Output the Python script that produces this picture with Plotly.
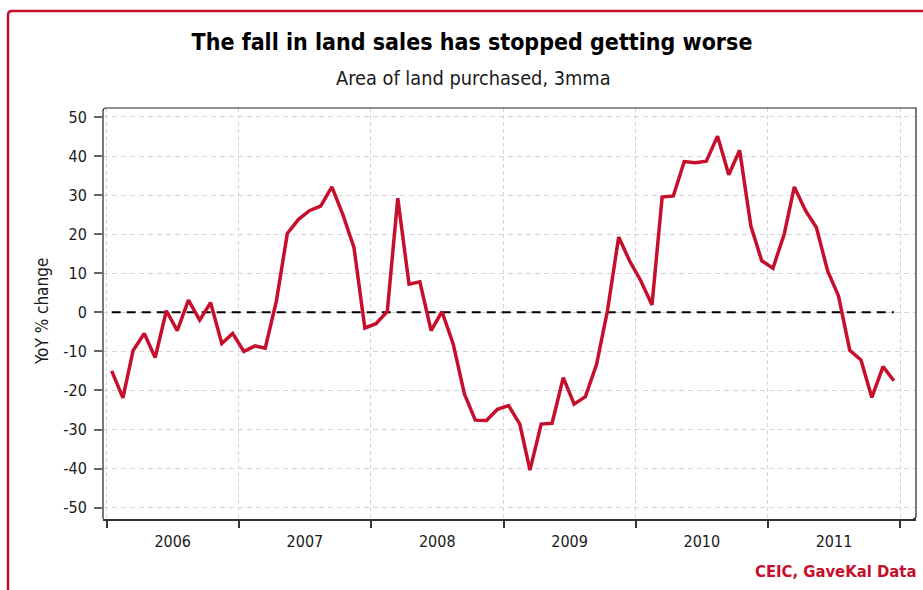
import plotly.graph_objects as go

# ---- data ----
months = [f"{y}-{m:02d}-15" for y in range(2006, 2012) for m in range(1, 13)]
yoy_change = [
    -15.0, -21.9, -9.8, -5.4, -11.6, 0.4, -4.7, 3.1, -2.0, 2.5, -8.0, -5.4,
    -10.0, -8.6, -9.2, 3.0, 20.2, 23.8, 26.0, 27.2, 32.1, 25.1, 16.6, -4.0,
    -2.9, 0.2, 29.2, 7.2, 7.8, -4.7, 0.2, -8.1, -20.9, -27.6, -27.7, -24.8,
    -23.9, -28.6, -40.4, -28.6, -28.4, -16.7, -23.5, -21.6, -13.3, 0.4, 19.3, 13.2,
    8.1, 1.9, 29.5, 29.8, 38.6, 38.3, 38.7, 45.1, 35.2, 41.5, 22.1, 13.2,
    11.3, 20.0, 32.1, 26.0, 21.7, 10.6, 4.2, -9.7, -12.2, -21.8, -13.9, -17.5,
]
zero_line = [0] * len(months)
y_ticks = [50, 40, 30, 20, 10, 0, -10, -20, -30, -40, -50]
y_tick_labels = [str(v) for v in y_ticks]

title = "The fall in land sales has stopped getting worse"
subtitle = "Area of land purchased, 3mma"
y_title = "YoY % change"
source = "CEIC, GaveKal Data"

# ---- geometry ----
W, H = 923, 590
ML, MR, MT, MB = 103, 7, 108, 71
PW, PH = W - ML - MR, H - MT - MB
FONT = "DejaVu Sans Condensed"
RED = "#C50F2C"


def px(x):
    return (x - ML) / PW


def py(y):
    return (H - MB - y) / PH


fig = go.Figure()
fig.add_trace(go.Scatter(
    x=months, y=zero_line, mode="lines",
    line=dict(color="#000000", width=2, dash="9px,6px"),
    hoverinfo="skip", showlegend=False,
))
fig.add_trace(go.Scatter(
    x=months, y=yoy_change, mode="lines",
    line=dict(color=RED, width=3.5), showlegend=False,
))

fig.update_layout(
    width=W, height=H,
    margin=dict(l=ML, r=MR, t=MT, b=MB),
    paper_bgcolor="white", plot_bgcolor="white",
    font=dict(family=FONT, size=16, color="#1a1a1a"),
    title=dict(text=f"<b>{title}</b>", x=472 / W, xanchor="center",
               y=1 - 42 / H, yanchor="middle",
               font=dict(family=FONT, size=23, color="#000000")),
    showlegend=False,
)

fig.update_xaxes(
    type="date", range=["2005-12-22", "2012-02-14"],
    tick0="2006-01-01", dtick="M12", tickformat="%Y",
    ticklabelmode="period",
    ticks="outside", ticklen=7, tickwidth=1.5, tickcolor="#333333",
    showgrid=True, gridcolor="#d4d4d4", gridwidth=1.2, griddash="4px,3px",
    showline=True, linecolor="#333333", linewidth=2,
    zeroline=False, tickfont=dict(size=16, color="#1a1a1a"),
)
fig.update_yaxes(
    range=[-52.9, 52.3], tickvals=y_ticks, ticktext=y_tick_labels,
    ticks="outside", ticklen=8, tickwidth=2, tickcolor="#666666",
    ticklabelstandoff=4,
    showgrid=True, gridcolor="#d4d4d4", gridwidth=1.2, griddash="5px,4px",
    showline=False, zeroline=False,
    tickfont=dict(size=16, color="#1a1a1a"),
)

# plot frame with small rounded corners
r = 3
x0, x1, y0, y1 = 103, 916, 108, 519
frame = (f"M {px(x0)},{py(y1)} L {px(x0)},{py(y0 + r)} "
         f"Q {px(x0)},{py(y0)} {px(x0 + r)},{py(y0)} "
         f"L {px(x1)},{py(y0)} L {px(x1)},{py(y1 - r)} "
         f"Q {px(x1)},{py(y1)} {px(x1 - r)},{py(y1)}")
fig.add_shape(type="path", path=frame, xref="paper", yref="paper",
              line=dict(color="#222222", width=1.2), layer="above")

# outer red border (rounded top-left corner, runs off the right/bottom)
bx, by, br = 8, 11, 4
border = (f"M {px(bx)},{py(H + 20)} L {px(bx)},{py(by + br)} "
          f"Q {px(bx)},{py(by)} {px(bx + br)},{py(by)} L {px(W + 20)},{py(by)}")
fig.add_shape(type="path", path=border, xref="paper", yref="paper",
              line=dict(color=RED, width=2.5), layer="above")

fig.add_annotation(text=subtitle, xref="paper", yref="paper",
                   x=px(473), y=py(78), xanchor="center", yanchor="middle",
                   showarrow=False, font=dict(family=FONT, size=19.8, color="#1a1a1a"))
fig.add_annotation(text=y_title, xref="paper", yref="paper", textangle=-90,
                   x=px(42), y=py(312), xanchor="center", yanchor="middle",
                   showarrow=False, font=dict(family=FONT, size=17, color="#1a1a1a"))
fig.add_annotation(text=f"<b>{source}</b>", xref="paper", yref="paper",
                   x=px(918), y=py(571), xanchor="right", yanchor="middle",
                   showarrow=False, font=dict(family=FONT, size=16.5, color=RED))

fig.write_html("out.html")
